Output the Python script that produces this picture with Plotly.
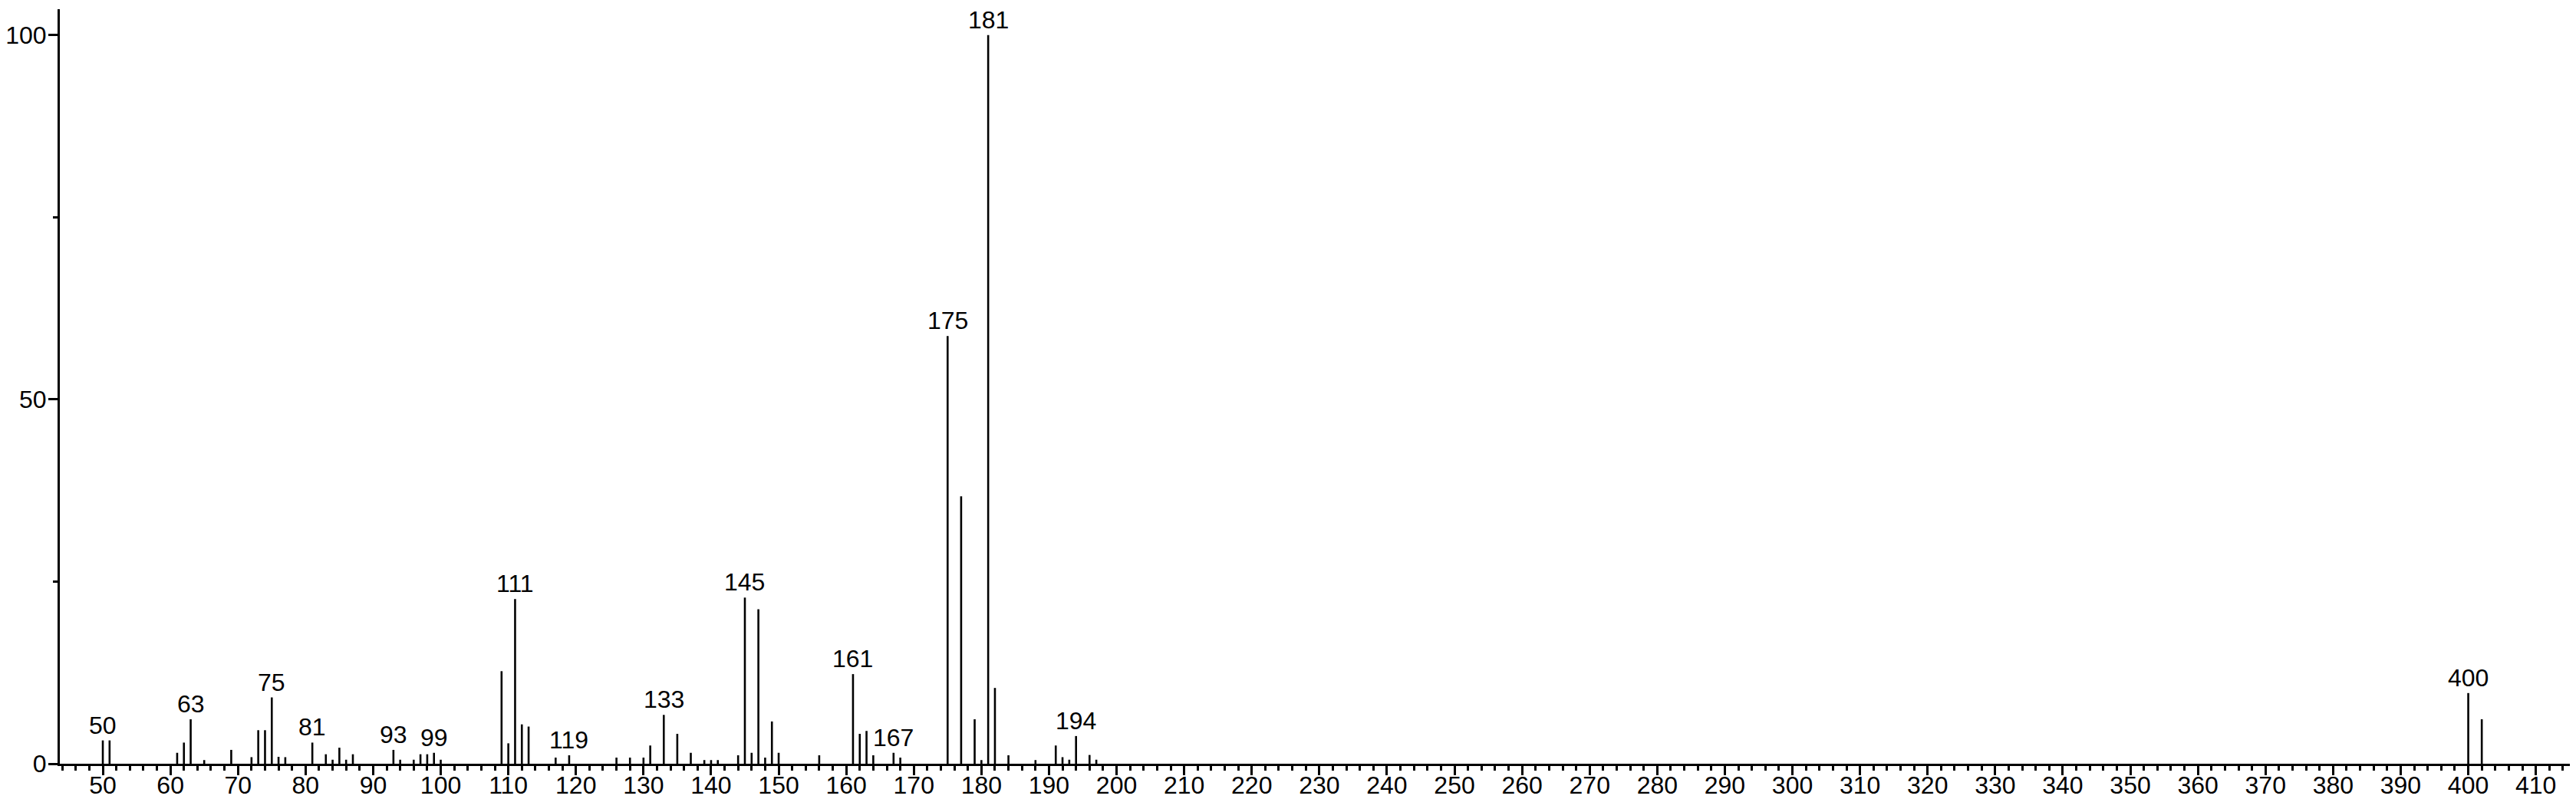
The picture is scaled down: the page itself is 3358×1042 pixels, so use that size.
import plotly.graph_objects as go

# m/z values of the peaks
mz = [50, 51, 61, 62, 63, 65, 69, 72, 73, 74, 75, 76, 77, 81, 83, 84, 85, 86, 87,
      93, 94, 96, 97, 98, 99, 100, 109, 110, 111, 112, 113, 117, 119, 126, 128, 130,
      131, 133, 135, 137, 139, 140, 141, 144, 145, 146, 147, 148, 149, 150, 156, 161,
      162, 163, 164, 167, 168, 175, 177, 179, 180, 181, 182, 184, 188, 191, 192, 193,
      194, 196, 197, 400, 402]
# relative intensities (%)
intensity = [3.2, 3.2, 1.5, 2.9, 6.1, 0.5, 1.9, 0.9, 4.6, 4.6, 9.1, 0.95, 0.9, 2.9, 1.3,
             0.55, 2.2, 0.55, 1.3, 1.9, 0.55, 0.55, 1.3, 1.3, 1.5, 0.55, 12.7, 2.8, 22.6,
             5.4, 5.1, 0.84, 1.16, 0.84, 0.84, 0.84, 2.5, 6.7, 4.1, 1.5, 0.5, 0.5, 0.5,
             1.16, 22.8, 1.5, 21.2, 0.84, 5.8, 1.5, 1.16, 12.3, 4.1, 4.5, 1.16, 1.5, 0.84,
             58.7, 36.7, 6.1, 0.5, 100.0, 10.4, 1.16, 0.5, 2.5, 0.9, 0.55, 3.8, 1.2, 0.55,
             9.7, 6.1]
# peaks that carry a label
labeled_mz = [50, 63, 75, 81, 93, 99, 111, 119, 133, 145, 161, 167, 175, 181, 194, 400]

x_ticks = list(range(50, 411, 10))
y_ticks = [0, 50, 100]

xs, ys = [], []
for m, v in zip(mz, intensity):
    xs += [m, m, None]
    ys += [0, v, None]

FONT = "Liberation Sans, Arial, Helvetica, sans-serif"

fig = go.Figure()
fig.add_trace(go.Scatter(x=xs, y=ys, mode="lines",
                         line=dict(color="black", width=2.6),
                         hoverinfo="skip", showlegend=False))

lookup = dict(zip(mz, intensity))
for m in labeled_mz:
    fig.add_annotation(x=m, y=lookup[m], text=str(m), showarrow=False,
                       xanchor="center", yanchor="bottom", yshift=0,
                       font=dict(family=FONT, size=32, color="black"))

fig.update_xaxes(range=[43.64, 416.85], tickvals=x_ticks, ticks="outside",
                 ticklen=12, tickwidth=2.5, tickcolor="black",
                 ticklabelstandoff=-14, automargin=False,
                 showline=True, linewidth=3, linecolor="black",
                 showgrid=False, zeroline=False,
                 minor=dict(dtick=2, tick0=0, ticks="outside", ticklen=6,
                            tickwidth=2.5, tickcolor="black", showgrid=False),
                 tickfont=dict(family=FONT, size=32, color="black"))
fig.update_yaxes(range=[0, 103.55], tickvals=y_ticks, ticks="outside",
                 ticklen=12, tickwidth=2.5, tickcolor="black",
                 ticklabelstandoff=-4, automargin=False,
                 showline=True, linewidth=3, linecolor="black",
                 showgrid=False, zeroline=False,
                 minor=dict(dtick=25, tick0=0, ticks="outside", ticklen=6,
                            tickwidth=2.5, tickcolor="black", showgrid=False),
                 tickfont=dict(family=FONT, size=32, color="black"))

fig.update_layout(width=3358, height=1042,
                  margin=dict(l=70, r=0, t=4, b=54, pad=0, autoexpand=False),
                  plot_bgcolor="white", paper_bgcolor="white")

fig.write_html("out.html")
